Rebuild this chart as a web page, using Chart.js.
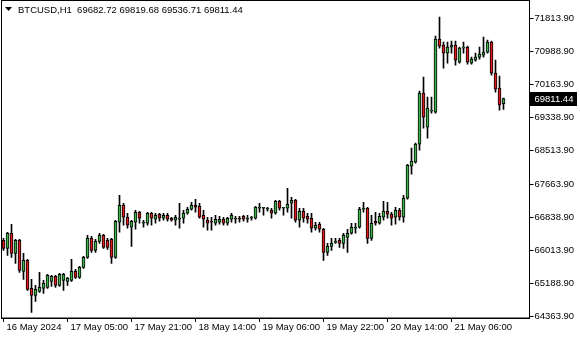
<!DOCTYPE html>
<html>
<head>
<meta charset="utf-8">
<script src="https://cdn.jsdelivr.net/npm/chart.js@4.4.1/dist/chart.umd.min.js"></script>
<style>
  html, body { margin: 0; padding: 0; background: #fff; }
</style>
</head>
<body>
<canvas id="chart" width="580" height="340"></canvas>
<script>
// BTCUSD H1 candles (open / high / low / close), oldest first
const opens = [66271,66071,66446,65946,66271,65496,65771,65071,64896,64996,65071,65096,65246,65371,65146,65271,65246,65271,65496,65346,
  65596,65846,66321,66021,66246,66396,66271,66296,65846,66721,67146,66846,66596,66721,66971,66696,66696,66946,66796,66921,
  66821,66896,66821,66771,66796,66821,66946,67046,67146,67121,66896,66771,66746,66696,66721,66796,66696,66796,66796,66821,
  66871,66796,66821,66821,67071,67071,67046,67021,66946,67246,67071,67071,67196,67271,66771,66996,66871,66821,66571,66671,
  66546,65971,66121,66221,66271,66196,66346,66446,66571,66596,67046,67071,66321,66746,66696,66846,66996,66921,66846,67021,
  66846,67321,68121,68221,68671,69946,69096,69496,69471,71296,71146,70946,71096,71146,70721,71071,71096,70696,70771,70846,
  70896,70971,71221,70446,70071,69682.72];
const highs = [66321,66471,66671,66296,66296,65946,65796,65296,65146,65471,65271,65421,65396,65396,65446,65446,65346,65796,65546,65621,
  65871,66396,66371,66296,66446,66421,66321,66321,66771,67396,67196,66946,66771,67021,66996,66771,66971,66971,66946,66946,
  66946,66946,66846,66896,67196,67021,67096,67221,67296,67196,67021,66846,66846,66896,66871,66846,66846,66946,66871,66871,
  66896,66896,66871,67121,67196,67096,67096,67071,67271,67271,67096,67571,67346,67296,67071,67071,66946,66946,66721,66721,
  66571,66196,66321,66321,66321,66446,66546,66696,66696,67096,67221,67096,66896,66971,66946,67246,67221,66971,67096,67071,
  67396,68171,68571,68696,69996,70346,69846,69846,71371,71846,71221,71221,71246,71246,71096,71221,71121,70846,70946,71096,
  71346,71271,71246,70771,70371,69819.68];
const lows = [66021,65896,65846,65696,65471,65296,65021,64471,64746,64971,64946,65071,65121,65096,65121,65021,65146,65246,65321,65321,
  65571,65821,65971,65971,66196,66071,66046,65696,65821,66471,66646,66571,66121,66546,66696,66596,66646,66646,66696,66746,
  66771,66746,66746,66646,66571,66696,66921,67021,66971,66821,66596,66521,66521,66646,66671,66646,66646,66721,66696,66721,
  66746,66721,66771,66796,66971,66896,66996,66821,66921,67021,66896,66971,66821,66721,66596,66721,66696,66471,66521,66471,
  65771,65896,66021,66196,66096,66071,65971,66421,66446,66571,66971,66196,66271,66646,66671,66771,66821,66646,66671,66771,
  66721,67296,67921,68196,68521,69071,68821,69446,69446,71071,70571,70696,70946,70646,70696,70946,70671,70671,70746,70796,
  70846,70946,70396,69971,69521,69536.71];
const closes = [66071,66446,65946,66271,65521,65771,65046,64896,65046,65096,65196,65396,65371,65146,65421,65421,65321,65496,65346,65596,
  65846,66321,66021,66246,66396,66096,66096,65846,66746,67146,66846,66646,66746,66971,66821,66721,66946,66821,66896,66821,
  66896,66796,66771,66846,66821,66946,67046,67146,67096,66846,66796,66696,66721,66796,66796,66696,66821,66896,66821,66796,
  66796,66821,66846,67096,67096,67085,67071,66946,67246,67071,67096,67171,67271,66771,66996,66821,66796,66571,66646,66546,
  65971,66121,66196,66246,66196,66396,66446,66596,66596,67046,67071,66321,66696,66696,66871,66996,66921,66821,67021,66846,
  67321,68146,68246,68671,69946,69346,69571,69521,71296,71121,70946,71096,71146,70771,71071,71096,70721,70796,70846,70921,
  70971,71221,70446,70046,69646,69811.44];

const emptySlots = 6; // free space right of the last bar
const yTickValues = [71813.90, 70988.90, 70163.90, 69338.90, 68513.90, 67663.90, 66838.90, 66013.90, 65188.90, 64363.90];
const xTickIndex = [0, 16, 32, 48, 64, 80, 96, 112];
const xTickLabels = ['16 May 2024', '17 May 05:00', '17 May 21:00', '18 May 14:00', '19 May 06:00', '19 May 22:00', '20 May 14:00', '21 May 06:00'];
const title = 'BTCUSD,H1  69682.72 69819.68 69536.71 69811.44';

const upColor = '#3cb44b';
const downColor = '#e0191b';
const font = { family: 'Liberation Sans', size: 9.5 };

const labels = [];
for (let i = 0; i < opens.length + emptySlots; i++) labels.push(i);

const decor = {
  id: 'decor',
  afterDraw(chart) {
    const c = chart.ctx, a = chart.chartArea;
    c.save();
    c.strokeStyle = '#000';
    c.lineWidth = 1;
    c.strokeRect(a.left, a.top - 0.5, a.right - a.left, a.bottom - a.top + 0.5);

    // symbol / OHLC caption
    c.fillStyle = '#000';
    c.beginPath();
    c.moveTo(5, 7); c.lineTo(12, 7); c.lineTo(8.5, 11);
    c.closePath(); c.fill();
    c.font = '9.5px "Liberation Sans"';
    c.textBaseline = 'middle';
    c.textAlign = 'left';
    c.fillText(title, 18, 10);

    // last price marker on the price scale
    const last = closes[closes.length - 1];
    const y = Math.round(chart.scales.y.getPixelForValue(last));
    c.fillStyle = '#000';
    c.fillRect(Math.round(a.right), y - 7, 47, 14);
    c.fillStyle = '#fff';
    c.fillText(last.toFixed(2), a.right + 5, y);
    c.restore();
  }
};

new Chart(document.getElementById('chart'), {
  type: 'bar',
  data: {
    labels: labels,
    datasets: [{
      label: 'wick',
      data: lows.map((l, i) => [l, highs[i]]),
      backgroundColor: '#000',
      barThickness: 1,
      grouped: false,
      order: 2
    }, {
      label: 'body',
      data: opens.map((o, i) => [o, closes[i]]),
      backgroundColor: opens.map((o, i) => closes[i] >= o ? upColor : downColor),
      borderColor: '#000',
      borderWidth: 1,
      borderSkipped: false,
      barThickness: 3,
      minBarLength: 1,
      grouped: false,
      order: 1
    }]
  },
  options: {
    responsive: false,
    animation: false,
    events: [],
    layout: { padding: { left: 1.5, top: 1, right: 0, bottom: 0 } },
    plugins: { legend: { display: false }, tooltip: { enabled: false } },
    scales: {
      x: {
        type: 'category',
        offset: true,
        afterBuildTicks: s => { s.ticks = xTickIndex.map(v => ({ value: v })); },
        afterFit: s => { s.height = 22; s.paddingLeft = 0; s.paddingRight = 0; },
        ticks: {
          autoSkip: false,
          maxRotation: 0,
          align: 'start',
          labelOffset: 3,
          padding: 0,
          color: '#000',
          font: font,
          callback: v => xTickLabels[xTickIndex.indexOf(v)]
        },
        grid: { drawOnChartArea: false, offset: false, tickLength: 4, color: '#000' },
        border: { color: '#000' }
      },
      y: {
        position: 'right',
        min: 64331,
        max: 72246,
        bounds: 'data',
        afterBuildTicks: s => { s.ticks = yTickValues.map(v => ({ value: v })); },
        afterFit: s => { s.width = 50.5; s.paddingTop = 0; s.paddingBottom = 0; },
        ticks: {
          padding: 1,
          color: '#000',
          font: font,
          callback: v => v.toFixed(2)
        },
        grid: { drawOnChartArea: false, tickLength: 4, color: '#000' },
        border: { color: '#000' }
      }
    }
  },
  plugins: [decor]
});
</script>
</body>
</html>
